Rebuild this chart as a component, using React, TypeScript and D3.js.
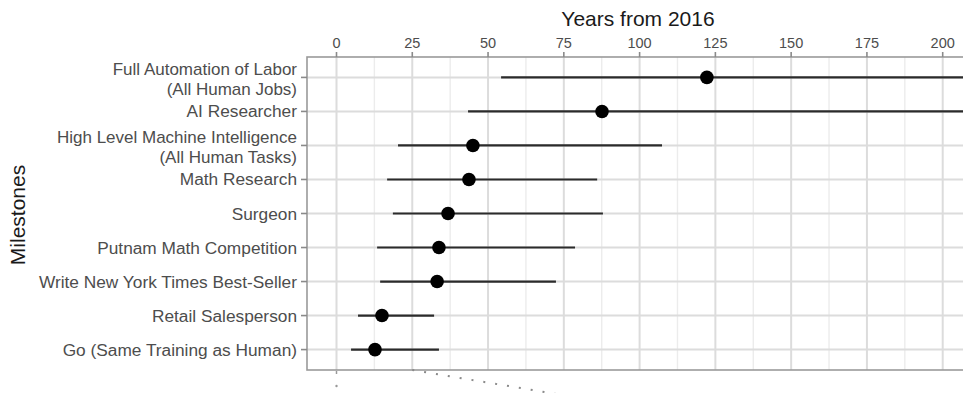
import React from "react";
import * as d3 from "d3";

// milestone labels, top to bottom ("\n" = second line)
const milestones = [
  "Full Automation of Labor\n(All Human Jobs)",
  "AI Researcher",
  "High Level Machine Intelligence\n(All Human Tasks)",
  "Math Research",
  "Surgeon",
  "Putnam Math Competition",
  "Write New York Times Best-Seller",
  "Retail Salesperson",
  "Go (Same Training as Human)",
];

// years from 2016: median and interval ends
const medians = [122.2, 87.6, 45.0, 43.7, 36.8, 33.8, 33.2, 15.0, 12.7];
const lows = [54.3, 43.4, 20.3, 16.7, 18.6, 13.4, 14.4, 7.1, 4.8];
const highs = [290, 230, 107.4, 86.0, 87.9, 78.7, 72.4, 32.2, 33.8];

const xTicks = [0, 25, 50, 75, 100, 125, 150, 175, 200];

const W = 963;
const H = 393;
const panel = { left: 307, top: 57, right: 970, bottom: 370 };
const font = "'Liberation Sans', Arial, Helvetica, sans-serif";

export default function App() {
  // 0 -> 336.5px, 200 -> 942.7px
  const x = d3.scaleLinear().domain([0, 200]).range([336.5, 942.7]);
  const y = d3
    .scalePoint<string>()
    .domain(milestones)
    .range([panel.top, panel.bottom])
    .padding(0.6);

  const minor = d3.range(-12.5, 225, 25);

  return (
    <svg
      width={W}
      height={H}
      style={{ position: "absolute", left: 0, top: 0, background: "#fff" }}
      fontFamily={font}
    >
      <defs>
        <clipPath id="panel">
          <rect
            x={panel.left}
            y={panel.top}
            width={panel.right - panel.left}
            height={panel.bottom - panel.top}
          />
        </clipPath>
      </defs>

      <g clipPath="url(#panel)">
        {/* grid */}
        {minor.map((t) => (
          <line
            key={"mn" + t}
            x1={x(t)}
            x2={x(t)}
            y1={panel.top}
            y2={panel.bottom}
            stroke="#ececec"
            strokeWidth={1.4}
          />
        ))}
        {xTicks.map((t) => (
          <line
            key={"mj" + t}
            x1={x(t)}
            x2={x(t)}
            y1={panel.top}
            y2={panel.bottom}
            stroke="#dcdcdc"
            strokeWidth={2}
          />
        ))}
        {milestones.map((m) => (
          <line
            key={"h" + m}
            x1={panel.left}
            x2={panel.right}
            y1={y(m)}
            y2={y(m)}
            stroke="#dcdcdc"
            strokeWidth={2}
          />
        ))}

        {/* intervals and medians */}
        {milestones.map((m, i) => (
          <g key={"d" + m}>
            <line
              x1={x(lows[i])}
              x2={x(highs[i])}
              y1={y(m)}
              y2={y(m)}
              stroke="#2b2b2b"
              strokeWidth={2.2}
            />
            <circle cx={x(medians[i])} cy={y(m)} r={6.8} fill="#000" />
          </g>
        ))}
      </g>

      {/* panel border */}
      <rect
        x={panel.left}
        y={panel.top}
        width={panel.right - panel.left}
        height={panel.bottom - panel.top}
        fill="none"
        stroke="#9a9a9a"
        strokeWidth={1.6}
      />

      {/* top axis */}
      {xTicks.map((t) => (
        <g key={"xt" + t}>
          <line
            x1={x(t)}
            x2={x(t)}
            y1={panel.top - 5}
            y2={panel.top}
            stroke="#8a8a8a"
            strokeWidth={1.6}
          />
          <text
            x={x(t)}
            y={48}
            textAnchor="middle"
            fontSize={14.5}
            fill="#4d4d4d"
          >
            {t}
          </text>
        </g>
      ))}
      <text x={638} y={26} textAnchor="middle" fontSize={21} fill="#1a1a1a">
        Years from 2016
      </text>

      {/* y axis */}
      {milestones.map((m) => {
        const lines = m.split("\n");
        const yy = y(m) as number;
        const two = lines.length > 1;
        return (
          <g key={"yt" + m}>
            <line
              x1={panel.left - 6}
              x2={panel.left}
              y1={yy}
              y2={yy}
              stroke="#8a8a8a"
              strokeWidth={1.6}
            />
            {lines.map((s, j) => (
              <text
                key={j}
                x={297}
                y={two ? yy - 2.5 + j * 19.6 : yy + 6}
                textAnchor="end"
                fontSize={two ? 17 : 17.3}
                fill="#4d4d4d"
              >
                {s}
              </text>
            ))}
          </g>
        );
      })}
      <text
        transform="translate(25,215) rotate(-90)"
        textAnchor="middle"
        fontSize={21}
        fill="#1a1a1a"
      >
        Milestones
      </text>

      {/* leftover marks below the panel */}
      <line
        x1={x(0)}
        x2={x(0)}
        y1={panel.bottom + 1}
        y2={panel.bottom + 4}
        stroke="#999"
        strokeWidth={1.5}
      />
      <circle cx={x(0)} cy={386} r={1.2} fill="#999" />
      <line
        x1={x(25)}
        y1={panel.bottom}
        x2={x(25) + 150}
        y2={panel.bottom + 25}
        stroke="#8a8a8a"
        strokeWidth={2}
        strokeDasharray="2,10"
      />
    </svg>
  );
}
